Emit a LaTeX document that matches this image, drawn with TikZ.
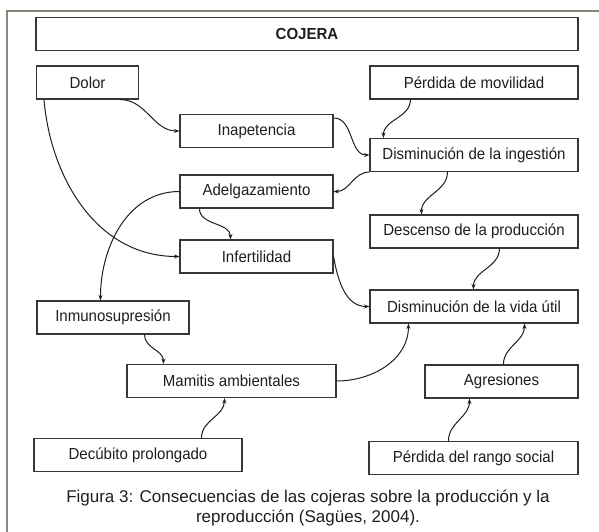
\documentclass[tikz,border=0pt]{standalone}
\usepackage{fontspec}
\setmainfont{Liberation Sans}
\newfontfamily\boxfont{Liberation Sans}[FakeStretch=0.94]
\usetikzlibrary{arrows.meta}
\definecolor{ink}{RGB}{30,30,30}
\definecolor{boxline}{RGB}{55,55,55}
\definecolor{framecol}{RGB}{140,132,118}

\begin{document}
\begin{tikzpicture}[x=1pt, y=1pt, >={Stealth[length=5.5pt, width=4pt]},
    box/.style={draw=boxline, line width=1.1pt, minimum height=33pt, inner sep=0pt,
        text=ink, font=\boxfont\fontsize{16}{18}\selectfont},
    every edge/.style={draw=ink, line width=1pt}]
    \useasboundingbox (0, 0) rectangle (599, 532);
    \draw[framecol, line width=2pt] (7, 0) -- (7, 521) -- (599, 521);

    \node[box, minimum width=542pt, font=\boxfont\fontsize{16}{18}\selectfont\bfseries] at (307, 498)(cojera){COJERA};
    \node[box, minimum width=102pt] at (87.5, 449.5)(dolor){Dolor};
    \node[box, minimum width=208pt] at (474, 449.5)(movilidad){Pérdida de movilidad};
    \node[box, minimum width=153pt] at (256.5, 401)(inapetencia){Inapetencia};
    \node[box, minimum width=208pt] at (474, 377)(ingestion){Disminución de la ingestión};
    \node[box, minimum width=153pt] at (256.5, 340.5)(adelgazamiento){Adelgazamiento};
    \node[box, minimum width=208pt] at (474, 300.5)(descenso){Descenso de la producción};
    \node[box, minimum width=153pt] at (256.5, 275.5)(infertilidad){Infertilidad};
    \node[box, minimum width=208pt] at (474, 225.5)(vidautil){Disminución de la vida útil};
    \node[box, minimum width=152pt] at (113, 214.5)(inmuno){Inmunosupresión};
    \node[box, minimum width=209pt] at (231.5, 151)(mamitis){Mamitis ambientales};
    \node[box, minimum width=153pt] at (501.5, 150.5)(agresiones){Agresiones};
    \node[box, minimum width=208pt] at (138, 77)(decubito){Decúbito prolongado};
    \node[box, minimum width=209pt] at (473.5, 74)(rango){Pérdida del rango social};

    \node[text=ink, align=center, font=\fontsize{17}{20}\selectfont] at (308, 23.5)(caption)
        {Figura 3: Consecuencias de las cojeras sobre la producción y la\\reproducción (Sagües, 2004).};

    \path[->]
        ([xshift=-19pt]dolor.south east) edge[out=0, in=180] (inapetencia.west)
        ([xshift=8pt]dolor.south west) edge[out=-85, in=180] (infertilidad.west)
        ([yshift=-4pt]inapetencia.north east) edge[out=0, in=180] (ingestion.west)
        ([xshift=41pt]movilidad.south west) edge[out=-90, in=90] ([xshift=14pt]ingestion.north west)
        (ingestion.south west) edge[out=180, in=0] (adelgazamiento.east)
        ([xshift=78pt]ingestion.south west) edge[out=-90, in=90] ([xshift=52pt]descenso.north west)
        ([xshift=20pt]adelgazamiento.south west) edge[out=-90, in=90] ([xshift=51pt]infertilidad.north west)
        (adelgazamiento.west) edge[out=180, in=90] ([xshift=64pt]inmuno.north west)
        (infertilidad.east) edge[out=-80, in=180] (vidautil.west)
        ([xshift=130pt]descenso.south west) edge[out=-90, in=90] ([xshift=104pt]vidautil.north west)
        ([xshift=108pt]inmuno.south west) edge[out=-90, in=90] ([xshift=37pt]mamitis.north west)
        (mamitis.east) edge[out=0, in=-90] ([xshift=39pt]vidautil.south west)
        ([xshift=79pt]agresiones.north west) edge[out=90, in=-90] ([xshift=155pt]vidautil.south west)
        ([xshift=168pt]decubito.north west) edge[out=90, in=-90] ([xshift=98pt]mamitis.south west)
        ([xshift=80pt]rango.north west) edge[out=90, in=-90] ([xshift=45pt]agresiones.south west)
        ;
\end{tikzpicture}
\end{document}
